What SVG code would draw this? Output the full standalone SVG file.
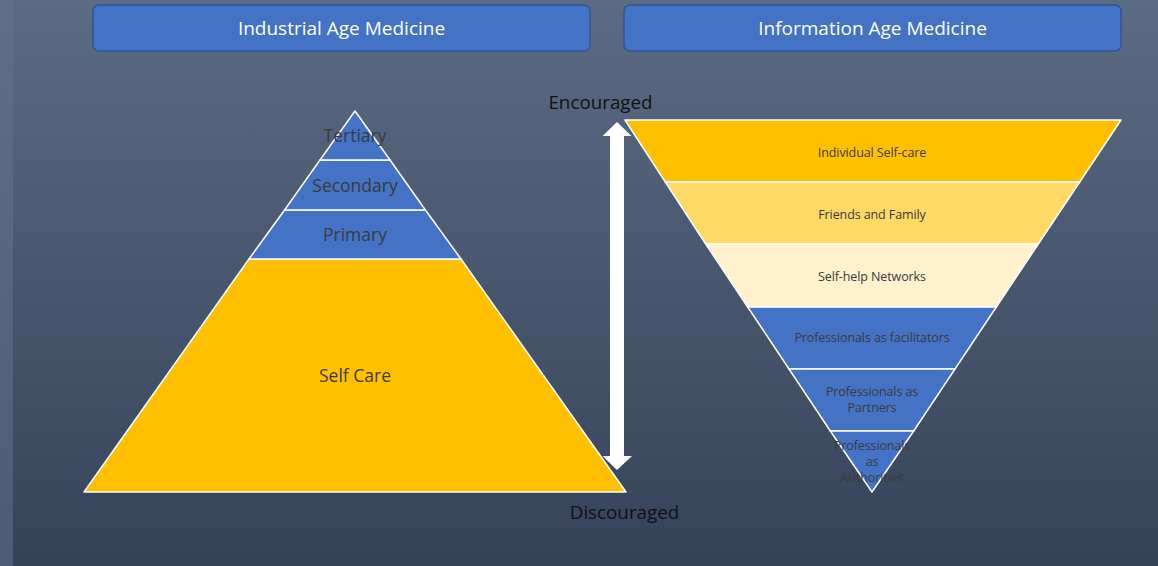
<svg xmlns="http://www.w3.org/2000/svg" width="1158" height="566" viewBox="0 0 1158 566">
  <defs>
    <linearGradient id="bg" x1="0" y1="0" x2="0" y2="1">
      <stop offset="0" stop-color="#5b6b83"/>
      <stop offset="1" stop-color="#35435a"/>
    </linearGradient>
    <linearGradient id="strip" x1="0" y1="0" x2="0" y2="1">
      <stop offset="0" stop-color="#5f6f87"/>
      <stop offset="1" stop-color="#4d5c74"/>
    </linearGradient>
  </defs>
  <style>
    .hdr { fill: #4472c4; stroke: #2f5597; stroke-width: 1.5; }
    .hdrt { font-family: "Open Sans", "Liberation Sans", sans-serif; font-size: 19px; fill: #ffffff; text-anchor: middle; }
    .blue { fill: #4472c4; stroke: #ffffff; stroke-width: 1.5; stroke-linejoin: round; }
    .gold { fill: #ffc000; stroke: #ffffff; stroke-width: 1.5; stroke-linejoin: round; }
    .gold2 { fill: #ffd966; stroke: #ffffff; stroke-width: 1.5; stroke-linejoin: round; }
    .gold3 { fill: #fff2cc; stroke: #ffffff; stroke-width: 1.5; stroke-linejoin: round; }
    .lt { font-family: "Open Sans", "Liberation Sans", sans-serif; font-size: 17.5px; fill: #3b3b3b; text-anchor: middle; }
    .rt { font-family: "Open Sans", "Liberation Sans", sans-serif; font-size: 12.5px; fill: #3b3b3b; text-anchor: middle; letter-spacing: -0.1px; }
    .side { font-family: "Open Sans", "Liberation Sans", sans-serif; font-size: 18.8px; fill: #111111; text-anchor: middle; }
  </style>
  <rect x="0" y="0" width="1158" height="566" fill="url(#bg)"/>
  <rect x="0" y="0" width="13" height="566" fill="url(#strip)"/>

  <g id="header-industrial">
    <rect class="hdr" x="93" y="5" width="497" height="46" rx="6"/>
    <text class="hdrt" x="341.5" y="35">Industrial Age Medicine</text>
  </g>
  <g id="header-information">
    <rect class="hdr" x="624" y="5" width="497" height="46" rx="6"/>
    <text class="hdrt" x="872.5" y="35">Information Age Medicine</text>
  </g>

  <g id="pyramid-left">
    <g id="self-care">
      <polygon class="gold" points="249,259 461,259 626,492 84,492"/>
      <text class="lt" x="355" y="382">Self Care</text>
    </g>
    <g id="primary">
      <polygon class="blue" points="284.6,210 425.4,210 461,259 249,259"/>
      <text class="lt" x="355" y="241">Primary</text>
    </g>
    <g id="secondary">
      <polygon class="blue" points="320,160 390,160 425.4,210 284.6,210"/>
      <text class="lt" x="355" y="192">Secondary</text>
    </g>
    <g id="tertiary">
      <polygon class="blue" points="355,111 390,160 320,160"/>
      <text class="lt" x="355" y="142">Tertiary</text>
    </g>
  </g>

  <g id="pyramid-right">
    <g id="individual-self-care">
      <polygon class="gold" points="625,120 1121,120 1079.7,182 665.3,182"/>
      <text class="rt" x="872" y="157">Individual Self-care</text>
    </g>
    <g id="friends-family">
      <polygon class="gold2" points="665.3,182 1079.7,182 1038.3,244 705.7,244"/>
      <text class="rt" x="872" y="219">Friends and Family</text>
    </g>
    <g id="self-help">
      <polygon class="gold3" points="705.7,244 1038.3,244 996.3,307 747.7,307"/>
      <text class="rt" x="872" y="281">Self-help Networks</text>
    </g>
    <g id="facilitators">
      <polygon class="blue" points="747.7,307 996.3,307 955,369 789,369"/>
      <text class="rt" x="872" y="342">Professionals as facilitators</text>
    </g>
    <g id="partners">
      <polygon class="blue" points="789,369 955,369 913.7,431 830.3,431"/>
      <text class="rt" x="872" y="396">Professionals as</text>
      <text class="rt" x="872" y="412">Partners</text>
    </g>
    <g id="authorities">
      <polygon class="blue" points="830.3,431 913.7,431 872,492"/>
      <text class="rt" x="872" y="450">Professionals</text>
      <text class="rt" x="872" y="466">as</text>
      <text class="rt" x="872" y="482">Authorities</text>
    </g>
  </g>

  <g id="connectors">
    <polygon id="double-arrow" points="617,122 631.5,136 624,136 624,456 632,456 617,470 602.5,456 610,456 610,136 602.5,136" fill="#ffffff"/>
  </g>

  <g id="label-encouraged">
    <text class="side" x="600.5" y="109">Encouraged</text>
  </g>
  <g id="label-discouraged">
    <text class="side" x="624.5" y="519">Discouraged</text>
  </g>
</svg>
